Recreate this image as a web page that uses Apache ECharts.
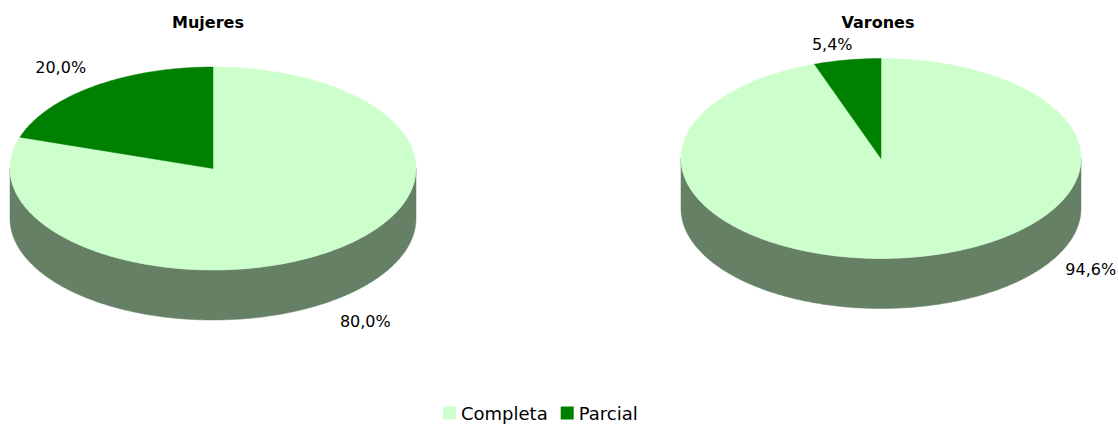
<!DOCTYPE html>
<html>
<head>
<meta charset="utf-8">
<script src="https://cdn.jsdelivr.net/npm/echarts@6/dist/echarts.min.js"></script>
<style>
html,body{margin:0;padding:0;background:#fff;}
#chart{width:1118px;height:424px;}
</style>
</head>
<body>
<div id="chart"></div>
<script>
// ---- data ----
const groups = ['Mujeres', 'Varones'];
const categories = ['Completa', 'Parcial'];
const completa = [80.0, 94.6];
const parcial = [20.0, 5.4];
const values = [completa, parcial];

// ---- layout / style (not data) ----
const FONT = 'DejaVu Sans';
const topColors = ['#CCFFCC', '#008000'];
const sideColors = ['#668066', '#004000'];
const pies = [
  { cx: 213, cy: 168.5, rx: 203, ry: 101.5, depth: 50, titleX: 203,
    labelOffset: [[33, 21], [-33, -19]] },
  { cx: 881, cy: 158.5, rx: 200, ry: 100, depth: 50, titleX: 873,
    labelOffset: [[176, -38], [-15, -15]] }
];

function fmt(v) { return v.toFixed(1).replace('.', ',') + '%'; }

function pt(L, deg, dy) {
  const r = deg * Math.PI / 180;
  return [L.cx + L.rx * Math.cos(r), L.cy - L.ry * Math.sin(r) + dy];
}
function arc(L, a, b, dy) {
  const n = Math.max(2, Math.ceil(Math.abs(a - b) * 2));
  const out = [];
  for (let i = 0; i <= n; i++) out.push(pt(L, a + (b - a) * i / n, dy));
  return out;
}

function renderItem(params, api) {
  const gi = api.value(0);
  const ci = params.seriesIndex;
  const L = pies[gi];
  let total = 0, before = 0;
  for (let k = 0; k < values.length; k++) {
    total += values[k][gi];
    if (k < ci) before += values[k][gi];
  }
  const v = values[ci][gi];
  const t1 = 90 - 360 * before / total;
  const t2 = t1 - 360 * v / total;
  const children = [];
  // visible front side (angles where sin < 0)
  for (let k = -1; k <= 1; k++) {
    const lo = Math.max(t2, -180 + 360 * k);
    const hi = Math.min(t1, 360 * k);
    if (hi > lo) {
      const pts = arc(L, hi, lo, 0).concat(arc(L, lo, hi, L.depth));
      children.push({ type: 'polygon', shape: { points: pts },
        style: { fill: sideColors[ci], stroke: sideColors[ci], lineWidth: 0.5 } });
    }
  }
  // top face
  const topPts = [[L.cx, L.cy]].concat(arc(L, t1, t2, 0));
  children.push({ type: 'polygon', shape: { points: topPts },
    style: { fill: topColors[ci], stroke: topColors[ci], lineWidth: 0.5 } });
  // label
  const mid = (t1 + t2) / 2;
  const s = Math.sin(mid * Math.PI / 180);
  const p = pt(L, mid, s < 0 ? L.depth : 0);
  const off = L.labelOffset[ci];
  children.push({ type: 'text', style: {
    x: p[0] + off[0], y: p[1] + off[1], text: fmt(v),
    fill: '#000', fontSize: 16, fontFamily: FONT,
    align: 'center', verticalAlign: 'middle' } });
  return { type: 'group', children };
}

const chart = echarts.init(document.getElementById('chart'), null, { renderer: 'svg' });
chart.setOption({
  animation: false,
  color: topColors,
  title: groups.map((g, gi) => ({
    text: g, left: pies[gi].titleX, top: 9, textAlign: 'center',
    textStyle: { fontSize: 16, fontWeight: 'bold', color: '#000', fontFamily: FONT }
  })),
  legend: {
    data: categories, left: 438, top: 402, padding: [1, 5, 1, 5], icon: 'rect',
    itemWidth: 13, itemHeight: 13, itemGap: 13,
    textStyle: { fontSize: 18, color: '#000', fontFamily: FONT, lineHeight: 20 }
  },
  series: categories.map((name, ci) => ({
    type: 'custom', name, coordinateSystem: 'none', silent: true,
    itemStyle: { color: topColors[ci] },
    data: groups.map((g, gi) => [gi, values[ci][gi]]),
    renderItem
  }))
});
</script>
</body>
</html>
